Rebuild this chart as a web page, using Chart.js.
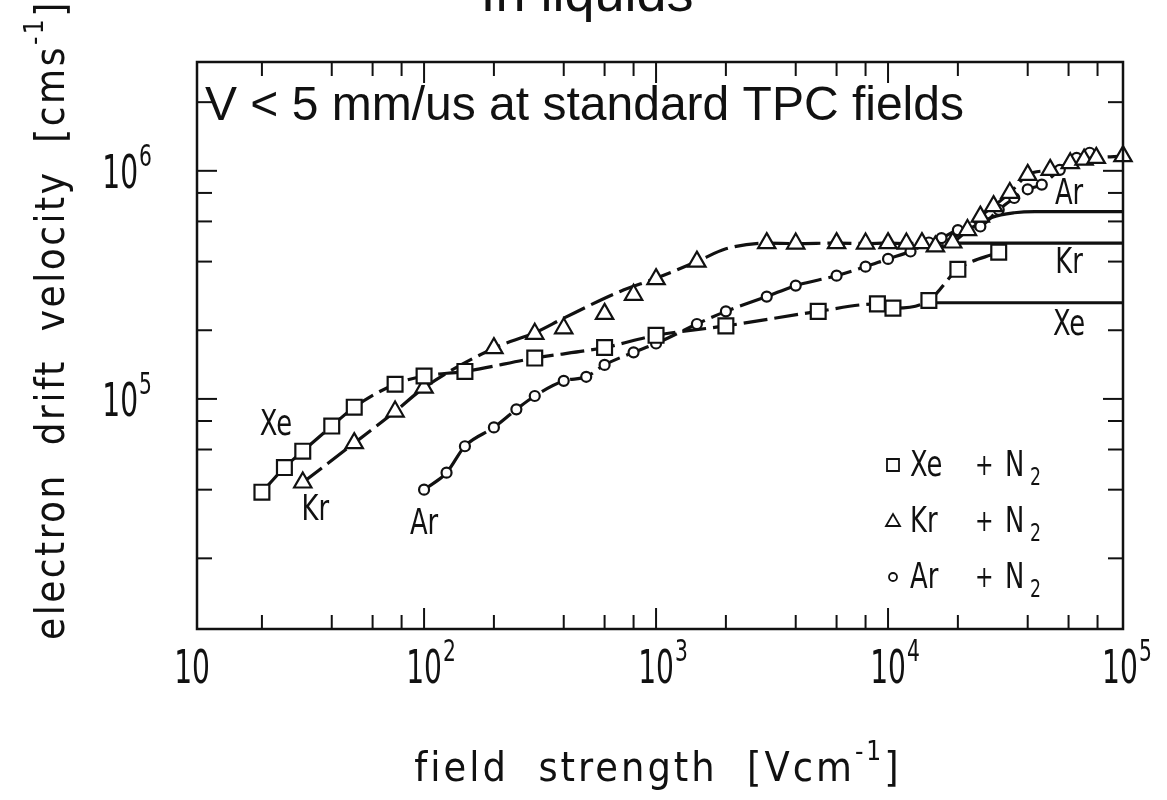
<!DOCTYPE html>
<html>
<head>
<meta charset="utf-8">
<script src="https://cdn.jsdelivr.net/npm/chart.js@4.4.0/dist/chart.umd.min.js"></script>
<style>
  body { margin: 0; background: #fff; }
  canvas { display: block; }
</style>
</head>
<body>
<canvas id="chart" width="1167" height="800"></canvas>
<script>
// Xe + N2 (squares)
const xeField = [20, 25, 30, 40, 50, 75, 100, 150, 300, 600, 1000, 2000, 5000, 9000, 10500, 15000, 20000, 30000];
const xeVel = [3.9e4, 5.0e4, 5.9e4, 7.6e4, 9.2e4, 1.16e5, 1.26e5, 1.32e5, 1.51e5, 1.68e5, 1.9e5, 2.09e5, 2.42e5, 2.61e5, 2.5e5, 2.7e5, 3.7e5, 4.4e5];

// Kr + N2 (triangles)
const krField = [30, 50, 75, 100, 200, 300, 400, 600, 800, 1000, 1500, 3000, 4000, 6000, 8000, 10000, 12000, 14000, 16000, 19000, 22000, 25000, 28500, 33500, 40000, 50000, 61000, 70000, 79000, 103000];
const krVel = [4.3e4, 6.4e4, 8.8e4, 1.12e5, 1.67e5, 1.93e5, 2.04e5, 2.36e5, 2.86e5, 3.35e5, 4.0e5, 4.82e5, 4.8e5, 4.82e5, 4.8e5, 4.82e5, 4.8e5, 4.82e5, 4.66e5, 4.85e5, 5.5e5, 6.3e5, 7.0e5, 8.0e5, 9.6e5, 1.01e6, 1.08e6, 1.12e6, 1.14e6, 1.16e6];
// smooth Kr curve at low fields (runs above some of the points)
const krFitField = [30, 50, 75, 100, 200, 300, 400, 700, 1000, 1500, 2000];
const krFitVel = [4.3e4, 6.4e4, 8.8e4, 1.12e5, 1.67e5, 1.95e5, 2.26e5, 2.96e5, 3.38e5, 4.0e5, 4.55e5];

// Ar + N2 (circles)
const arField = [100, 125, 150, 200, 250, 300, 400, 500, 600, 800, 1000, 1500, 2000, 3000, 4000, 6000, 8000, 10000, 12500, 15000, 17000, 20000, 25000, 30000, 35000, 40000, 46000, 55000, 65000, 74000];
const arVel = [4.0e4, 4.75e4, 6.2e4, 7.5e4, 9.0e4, 1.03e5, 1.2e5, 1.25e5, 1.41e5, 1.6e5, 1.75e5, 2.13e5, 2.42e5, 2.81e5, 3.14e5, 3.47e5, 3.8e5, 4.11e5, 4.43e5, 4.85e5, 5.07e5, 5.5e5, 5.7e5, 6.75e5, 7.6e5, 8.3e5, 8.7e5, 1.01e6, 1.14e6, 1.2e6];

// pure liquids (solid lines)
const xePureField = [15000, 103000];
const xePureVel = [2.64e5, 2.64e5];
const krPureField = [19000, 103000];
const krPureVel = [4.82e5, 4.82e5];
const arPureField = [18000, 22000, 28000, 35000, 43000, 103000];
const arPureVel = [4.95e5, 5.5e5, 6.25e5, 6.55e5, 6.63e5, 6.63e5];

// axes
const X_MIN = 10.5, X_MAX = 103000;
const Y_MIN = 9800, Y_MAX = 3.0e6;
const xTicks = [20, 40, 60, 80, 100, 200, 400, 600, 800, 1000, 2000, 4000, 6000, 8000, 10000, 20000, 40000, 60000, 80000];
const xMajor = [100, 1000, 10000];
const xLabels = [[10, '10', ''], [100, '10', '2'], [1000, '10', '3'], [10000, '10', '4'], [100000, '10', '5']];
const yTicks = [2e4, 4e4, 6e4, 8e4, 1e5, 2e5, 4e5, 6e5, 8e5, 1e6, 2e6];
const yMajor = [1e5, 1e6];
const yLabels = [[1e5, '10', '5'], [1e6, '10', '6']];

// curve labels, placed in data coordinates
const gasLabels = [
  ['Xe', 23, 7.7e4], ['Kr', 34, 3.26e4], ['Ar', 100, 2.83e4],
  ['Ar', 60300, 7.93e5], ['Kr', 60300, 3.94e5], ['Xe', 60300, 2.11e5]
];

const NUM_FONT = '"DejaVu Sans Condensed", "DejaVu Sans", sans-serif';
const TXT_FONT = '"Liberation Sans", Arial, sans-serif';

function pts(xs, ys) { return xs.map((v, i) => ({x: v, y: ys[i]})); }

const krCurve = pts(krFitField, krFitVel).concat(pts(krField, krVel).filter(p => p.x >= 3000));

function markers(data, style, r) {
  return {
    data: data, showLine: false, pointStyle: style, pointRadius: r, pointHoverRadius: r,
    pointBackgroundColor: '#fff', pointBorderColor: '#111', pointBorderWidth: 2.2, clip: false
  };
}
function dashed(data) {
  return {
    data: data, showLine: true, pointRadius: 0, borderColor: '#111', borderWidth: 3.2,
    borderDash: [24, 7], cubicInterpolationMode: 'monotone', fill: false
  };
}
function solid(data) {
  return {
    data: data, showLine: true, pointRadius: 0, borderColor: '#111', borderWidth: 3.2,
    cubicInterpolationMode: 'monotone', fill: false
  };
}

function line(ctx, x1, y1, x2, y2) {
  ctx.beginPath(); ctx.moveTo(x1, y1); ctx.lineTo(x2, y2); ctx.stroke();
}

// horizontally squeezed text (the scan uses a tall, narrow typeface)
function narrowWidth(ctx, t, size, sx) {
  ctx.font = size + 'px ' + NUM_FONT;
  return ctx.measureText(t).width * sx;
}
function narrowText(ctx, t, x, y, size, sx) {
  ctx.save();
  ctx.font = size + 'px ' + NUM_FONT;
  ctx.textAlign = 'left';
  ctx.translate(x, y);
  ctx.scale(sx, 1);
  ctx.fillText(t, 0, 0);
  ctx.restore();
}

const axesPlugin = {
  id: 'axesPlugin',
  afterDraw(chart) {
    const ctx = chart.ctx, a = chart.chartArea, x = chart.scales.x, y = chart.scales.y;
    ctx.save();
    ctx.strokeStyle = '#111';
    ctx.fillStyle = '#111';
    ctx.lineWidth = 2.5;
    ctx.strokeRect(a.left, a.top, a.right - a.left, a.bottom - a.top);

    ctx.lineWidth = 2;
    xTicks.forEach(v => {
      const px = x.getPixelForValue(v);
      const len = xMajor.includes(v) ? 21 : 14;
      line(ctx, px, a.bottom, px, a.bottom - len);
      line(ctx, px, a.top, px, a.top + len);
    });
    yTicks.forEach(v => {
      const py = y.getPixelForValue(v);
      const len = yMajor.includes(v) ? 20 : 15;
      line(ctx, a.left, py, a.left + len, py);
      line(ctx, a.right, py, a.right - len, py);
    });

    // tick labels
    const BS = 46, BX = 0.68, ES = 30, EX = 0.75;
    ctx.textBaseline = 'alphabetic';
    xLabels.forEach(([v, b, e]) => {
      const px = x.getPixelForValue(v);
      const w = narrowWidth(ctx, b, BS, BX);
      narrowText(ctx, b, px - w / 2, 683, BS, BX);
      if (e) narrowText(ctx, e, px + w / 2 + 1, 661, ES, EX);
    });
    yLabels.forEach(([v, b, e]) => {
      const py = y.getPixelForValue(v);
      const right = a.left - 45;
      const we = narrowWidth(ctx, e, ES, EX);
      const w = narrowWidth(ctx, b, BS, BX);
      narrowText(ctx, b, right - we - 1 - w, py + 17, BS, BX);
      narrowText(ctx, e, right - we, py - 5, ES, EX);
    });

    // curve labels
    ctx.textBaseline = 'middle';
    gasLabels.forEach(([t, vx, vy]) => {
      const w = narrowWidth(ctx, t, 35, 0.82);
      narrowText(ctx, t, x.getPixelForValue(vx) - w / 2, y.getPixelForValue(vy) + 1, 35, 0.82);
    });

    // legend
    const rows = [['rect', 'Xe'], ['triangle', 'Kr'], ['circle', 'Ar']];
    rows.forEach(([st, name], i) => {
      const cy = a.bottom - 164 + i * 56;
      const mx = a.right - 230;
      ctx.lineWidth = 1.8;
      ctx.beginPath();
      if (st === 'rect') ctx.rect(mx - 6, cy - 6, 12, 12);
      else if (st === 'triangle') { ctx.moveTo(mx - 7, cy + 5); ctx.lineTo(mx + 7, cy + 5); ctx.lineTo(mx, cy - 7); ctx.closePath(); }
      else ctx.arc(mx, cy, 4, 0, Math.PI * 2);
      ctx.stroke();
      narrowText(ctx, name, mx + 17, cy + 2, 35, 0.82);
      narrowText(ctx, '+', mx + 82, cy + 2, 30, 0.82);
      narrowText(ctx, 'N', mx + 112, cy + 2, 35, 0.82);
      narrowText(ctx, '2', mx + 137, cy + 14, 24, 0.8);
    });

    // annotation
    ctx.font = '48px ' + TXT_FONT;
    ctx.textAlign = 'left';
    ctx.textBaseline = 'alphabetic';
    ctx.fillText('V < 5 mm/us at standard TPC fields', a.left + 8, 120);

    // title (partly cut off at the top)
    ctx.font = '54px ' + TXT_FONT;
    ctx.textAlign = 'center';
    ctx.fillText('In liquids', 587, 11);

    // axis titles
    ctx.textAlign = 'left';
    ctx.letterSpacing = '3px';
    ctx.font = '41px ' + NUM_FONT;
    const xt1 = 'field  strength  [Vcm', xt2 = '-1', xt3 = ']';
    const w1 = ctx.measureText(xt1).width;
    ctx.font = '26px ' + NUM_FONT;
    const w2 = ctx.measureText(xt2).width;
    ctx.font = '41px ' + NUM_FONT;
    const w3 = ctx.measureText(xt3).width;
    const sx = 658 - (w1 + w2 + w3) / 2;
    ctx.fillText(xt1, sx, 781);
    ctx.font = '26px ' + NUM_FONT;
    ctx.fillText(xt2, sx + w1, 760);
    ctx.font = '41px ' + NUM_FONT;
    ctx.fillText(xt3, sx + w1 + w2, 781);

    ctx.save();
    ctx.letterSpacing = '2.5px';
    ctx.translate(64, 640);
    ctx.rotate(-Math.PI / 2);
    const yt1 = 'electron  drift  velocity  [cms';
    ctx.font = '40px ' + NUM_FONT;
    const v1 = ctx.measureText(yt1).width;
    ctx.fillText(yt1, 0, 0);
    ctx.font = '26px ' + NUM_FONT;
    const v2 = ctx.measureText('-1').width;
    ctx.fillText('-1', v1, -21);
    ctx.font = '40px ' + NUM_FONT;
    ctx.fillText(']', v1 + v2, 0);
    ctx.restore();

    ctx.restore();
  }
};

new Chart(document.getElementById('chart'), {
  type: 'scatter',
  data: {
    datasets: [
      markers(pts(xeField, xeVel), 'rect', 10.5),
      markers(pts(krField, krVel), 'triangle', 10),
      markers(pts(arField, arVel), 'circle', 5),
      dashed(pts(xeField, xeVel)),
      dashed(krCurve),
      dashed(pts(arField, arVel)),
      solid(pts(xePureField, xePureVel)),
      solid(pts(krPureField, krPureVel)),
      solid(pts(arPureField, arPureVel))
    ]
  },
  options: {
    responsive: false,
    animation: false,
    layout: { padding: { left: 197, right: 44, top: 62, bottom: 171 } },
    plugins: { legend: { display: false }, tooltip: { enabled: false } },
    scales: {
      x: { type: 'logarithmic', min: X_MIN, max: X_MAX, display: false },
      y: { type: 'logarithmic', min: Y_MIN, max: Y_MAX, display: false }
    }
  },
  plugins: [axesPlugin]
});
</script>
</body>
</html>
